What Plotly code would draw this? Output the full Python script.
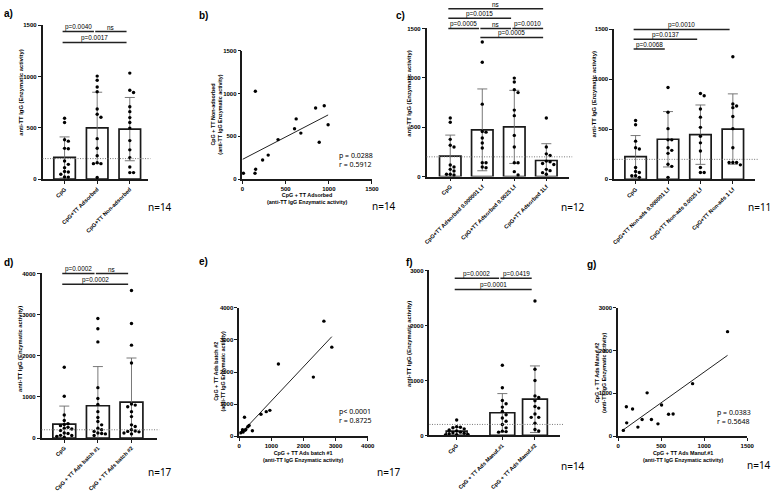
import plotly.graph_objects as go

W, H = 778, 499
FONT = "Liberation Sans"
NFONT = "Noto Sans"

# ---------------- data ----------------
YTITLE = "anti-TT IgG (Enzymatic activity)"

# a) adsorbed vs non-adsorbed
A_CATS = ["CpG", "CpG+TT Adsorbed", "CpG+TT Non-adsorbed"]
A_MEAN = [211, 500, 487]
A_SD = [200, 346, 308]
A_CPG = [593, 551, 383, 370, 300, 296, 176, 144, 112, 74, 70, 48, 22, 20]
A_ADS = [1003, 962, 897, 851, 683, 631, 603, 394, 301, 228, 151, 151, 16, 160]
A_NON = [1032, 865, 843, 705, 657, 599, 551, 497, 375, 285, 208, 119, 64, 64]
A_SIG = [(0, 1, 1436, "p=0.0040"), (1, 2, 1436, "ns"), (0, 2, 1330, "p=0.0017")]

# b) correlation adsorbed vs non-adsorbed
B_X = [149, 847, 947, 622, 603, 676, 992, 889, 412, 298, 233, 153, 145, 11]
B_Y = [1027, 831, 858, 704, 588, 538, 635, 431, 462, 281, 223, 115, 69, 69]
B_FIT = (231, 0.523, 0, 992)  # intercept, slope, x start, x end
B_STATS = ["p = 0.0288", "r = 0.5912"]

# c) adsorbed doses
C_CATS = ["CpG", "CpG+TT Adsorbed 0.000001 Lf", "CpG+TT Adsorbed 0.0025 Lf", "CpG+TT Adsorbed 1Lf"]
C_MEAN = [207, 473, 503, 163]
C_SD = [213, 414, 370, 170]
C_G1 = [593, 550, 377, 317, 300, 117, 97, 73, 57, 23, 23, 17]
C_G2 = [1363, 1157, 733, 457, 450, 390, 340, 290, 140, 140, 97, 90]
C_G3 = [997, 957, 880, 850, 673, 617, 417, 300, 140, 140, 50, 17]
C_G4 = [593, 300, 230, 213, 157, 150, 133, 123, 73, 60, 40, 23]
C_SIG = [(0, 3, 1700, "ns"), (0, 2, 1603, "p=0.0015"), (0, 1, 1500, "p=0.0005"),
         (1, 2, 1500, "ns"), (2, 3, 1500, "p=0.0010"), (1, 3, 1407, "p=0.0005")]

# c, right) non-adsorbed doses
N_CATS = ["CpG", "CpG+TT Non-ads 0.000001 Lf", "CpG+TT Non-ads 0.0025 Lf", "CpG+TT Non-ads 1 Lf"]
N_MEAN = [227, 401, 447, 503]
N_SD = [211, 277, 297, 352]
N_G1 = [589, 546, 382, 316, 303, 118, 79, 69, 36, 36, 20]
N_G2 = [918, 671, 507, 395, 395, 316, 290, 260, 151, 130, 20]
N_G3 = [859, 836, 704, 622, 520, 431, 365, 283, 118, 69, 69]
N_G4 = [1227, 753, 734, 717, 628, 507, 316, 168, 168, 168, 145]
N_SIG = [(0, 1, 1303, "p=0.0068"), (0, 2, 1401, "p=0.0137"), (0, 3, 1500, "p=0.0010")]

# d) batches
D_CATS = ["CpG", "CpG + TT Ads batch #1", "CpG + TT Ads batch #2"]
D_MEAN = [336, 784, 872]
D_SD = [440, 952, 1072]
D_G1 = [1720, 1016, 560, 424, 350, 330, 300, 260, 240, 220, 184, 120, 110, 64, 60, 40, 20]
D_G2 = [2904, 2656, 2336, 1224, 960, 816, 640, 500, 400, 320, 240, 200, 160, 120, 110, 100, 60]
D_G3 = [3584, 2784, 2256, 1824, 824, 800, 760, 640, 520, 320, 280, 200, 170, 160, 150, 120, 100]
D_SIG = [(0, 1, 4000, "p=0.0002"), (1, 2, 4000, "ns"), (0, 2, 3736, "p=0.0002")]

# e) correlation batches
E_X = [2636, 2882, 1220, 2308, 954, 841, 677, 164, 410, 308, 267, 205, 103, 103, 51, 123, 180]
E_Y = [3589, 2776, 2252, 1841, 802, 761, 679, 586, 164, 329, 288, 206, 195, 154, 103, 123, 180]
E_FIT = (29, 1.067, 21, 2882)
E_STATS = ["p< 0.0001", "r = 0.8725"]

# f) manufacturers
F_CATS = ["CpG", "CpG + TT Ads Manuf.#1", "CpG + TT Ads Manuf.#2"]
F_MEAN = [78, 413, 659]
F_SD = [72, 348, 605]
F_G1 = [280, 160, 150, 140, 120, 100, 80, 60, 50, 40, 30, 20, 15, 10]
F_G2 = [1276, 868, 635, 575, 515, 437, 377, 317, 257, 198, 138, 78, 70, 60]
F_G3 = [2444, 1204, 1000, 719, 689, 629, 527, 497, 389, 329, 329, 222, 108, 80]
F_SIG = [(0, 1, 2857, "p=0.0002"), (1, 2, 2857, "p=0.0419"), (0, 2, 2653, "p=0.0001")]

# g) correlation manufacturers
G_X = [1271, 865, 337, 505, 96, 168, 639, 586, 279, 387, 463, 100, 230, 61]
G_Y = [2438, 1223, 1008, 723, 685, 631, 515, 508, 385, 385, 285, 308, 208, 131]
G_FIT = (58, 1.437, 61, 1271)
G_STATS = ["p = 0.0383", "r = 0.5648"]

THRESHOLD = 200

# ---------------- layout helpers ----------------
fig = go.Figure()
layout = dict(width=W, height=H, margin=dict(l=0, r=0, t=0, b=0),
              paper_bgcolor="white", plot_bgcolor="white", showlegend=False)
shapes, annotations = [], []


def dom(x0, x1, yt, yb):
    return [x0 / W, x1 / W], [1 - yb / H, 1 - yt / H]


def aname(a, n):
    return f"{a}axis" if n == 1 else f"{a}axis{n}"


def aref(a, n):
    return a if n == 1 else f"{a}{n}"


TICKFONT = dict(family=FONT, size=6, color="#000", weight="bold")
AX = dict(showline=True, linecolor="#1a1a1a", linewidth=1.5, ticks="outside", ticklen=3,
          tickwidth=1.1, tickcolor="#1a1a1a", showgrid=False, zeroline=False,
          fixedrange=True)


def swarm(vals, ymax, ph, d=3.8):
    placed, offs = [], [0.0] * len(vals)
    order = sorted(range(len(vals)), key=lambda i: -vals[i])
    for i in order:
        ypx = vals[i] / ymax * ph
        for k in [0, 1, -1, 2, -2, 3, -3, 4, -4]:
            xpx = k * d
            if all((xpx - px) ** 2 + (ypx - py) ** 2 >= (d * 0.95) ** 2 for px, py in placed):
                break
        placed.append((xpx, ypx))
        offs[i] = xpx
    return offs


def px_text(x, y, text, size, family=NFONT, xanchor="left", weight="normal", angle=0):
    annotations.append(dict(xref="paper", yref="paper", x=x / W, y=1 - y / H, text=text,
                            showarrow=False, xanchor=xanchor, yanchor="middle", textangle=angle,
                            font=dict(family=family, size=size, color="#000", weight=weight)))


def bar_panel(n, box, c0, unit, pos, cats, means, sds, groups, ymax, yticks, widths, sig, title_xy,
              catsize=5.6):
    x0, x1, yt, yb = box
    xd, yd = dom(*box)
    xr, yr = aref("x", n), aref("y", n)
    catfont = dict(TICKFONT, size=catsize)
    layout[aname("x", n)] = dict(domain=xd, range=[(x0 - c0) / unit, (x1 - c0) / unit], anchor=yr,
                                 tickmode="array", tickvals=pos, ticktext=cats, tickangle=-45,
                                 tickfont=catfont, **AX)
    layout[aname("y", n)] = dict(domain=yd, range=[0, ymax], anchor=xr, tickmode="array",
                                 tickvals=yticks, tickfont=TICKFONT, **AX)
    fig.add_trace(go.Bar(x=pos, y=means, width=widths, xaxis=xr, yaxis=yr,
                         marker=dict(color="white", line=dict(color="#1a1a1a", width=1.7)),
                         error_y=dict(type="data", array=sds, color="#6a6a6a", thickness=0.9, width=5)))
    ph = yb - yt
    for p, vals in zip(pos, groups):
        offs = swarm(vals, ymax, ph)
        fig.add_trace(go.Scatter(x=[p + o / unit for o in offs], y=vals, mode="markers",
                                 marker=dict(color="black", size=3.4), xaxis=xr, yaxis=yr,
                                 cliponaxis=False))
    shapes.append(dict(type="line", xref=f"{xr} domain", yref=yr, x0=0, x1=1.02,
                       y0=THRESHOLD, y1=THRESHOLD,
                       line=dict(color="#777", width=1, dash="1px,1.5px")))
    for i, j, v, t in sig:
        xs, xe = pos[i] - 0.06, pos[j] - 0.1
        shapes.append(dict(type="line", xref=xr, yref=f"{yr} domain", x0=xs, x1=xe,
                           y0=v / ymax, y1=v / ymax, line=dict(color="#222", width=1.5)))
        annotations.append(dict(xref=xr, yref=f"{yr} domain", x=(xs + xe) / 2, y=v / ymax, text=t,
                                showarrow=False, yanchor="bottom", yshift=-1.5,
                                font=dict(family=FONT, size=6.4, color="#000")))
    px_text(title_xy[0], title_xy[1], YTITLE, 5.8, family=FONT, xanchor="center",
            weight="bold", angle=-90)


def scatter_panel(n, box, xs, ys, xmax, ymax, xticks, yticks, fit, xtitle, ytitle, xt_xy, yt_xy):
    xd, yd = dom(*box)
    xr, yr = aref("x", n), aref("y", n)
    layout[aname("x", n)] = dict(domain=xd, range=[0, xmax], anchor=yr, tickmode="array",
                                 tickvals=xticks, tickfont=TICKFONT, **AX)
    layout[aname("y", n)] = dict(domain=yd, range=[0, ymax], anchor=xr, tickmode="array",
                                 tickvals=yticks, tickfont=TICKFONT, **AX)
    b, m, fx0, fx1 = fit
    fig.add_trace(go.Scatter(x=[fx0, fx1], y=[b + m * fx0, b + m * fx1], mode="lines",
                             line=dict(color="#222", width=1), xaxis=xr, yaxis=yr))
    fig.add_trace(go.Scatter(x=xs, y=ys, mode="markers", marker=dict(color="black", size=3.4),
                             xaxis=xr, yaxis=yr, cliponaxis=False))
    px_text(xt_xy[0], xt_xy[1], xtitle, 5.4, family=FONT, xanchor="center", weight="bold")
    px_text(yt_xy[0], yt_xy[1], ytitle, 5.4, family=FONT, xanchor="center", weight="bold", angle=-90)


# ---------------- panels ----------------
bar_panel(1, (41, 148, 22.3, 178.3), 63.3, 33, [0, 1, 2], A_CATS, A_MEAN, A_SD,
          [A_CPG, A_ADS, A_NON], 1500, [0, 500, 1000, 1500], 0.66, A_SIG, (19, 91))

scatter_panel(2, (243.3, 374.3, 48.3, 178.3), B_X, B_Y, 1500, 1500, [0, 500, 1000, 1500],
              [0, 500, 1000, 1500], B_FIT,
              "CpG + TT Adsorbed<br>(anti-TT IgG Enzymatic activity)",
              "CpG + TT Non-adsorbed<br>(anti-TT IgG Enzymatic activity)",
              (308.5, 198), (217.5, 113))

bar_panel(3, (429.5, 574, 25.7, 175.7), 453.5, 32.4, [0, 1, 2, 3], C_CATS, C_MEAN, C_SD,
          [C_G1, C_G2, C_G3, C_G4], 1500, [0, 500, 1000, 1500], 0.67, C_SIG, (411.5, 92))

bar_panel(4, (619.3, 761.7, 26.7, 178.5), 641, 32.8, [0, 1, 2, 3], N_CATS, N_MEAN, N_SD,
          [N_G1, N_G2, N_G3, N_G4], 1500, [0, 500, 1000, 1500], 0.66, N_SIG, (598.5, 93))

bar_panel(5, (40, 156.7, 273.7, 440.3), 63, 34, [0, 1, 2], D_CATS, D_MEAN, D_SD,
          [D_G1, D_G2, D_G3], 4000, [0, 1000, 2000, 3000, 4000], 0.68, D_SIG, (18.5, 350),
          catsize=5.5)

scatter_panel(6, (240, 370, 308.7, 438.3), E_X, E_Y, 4000, 4000, [0, 1000, 2000, 3000, 4000],
              [0, 1000, 2000, 3000, 4000], E_FIT,
              "CpG + TT Ads batch #1<br>(anti-TT IgG Enzymatic activity)",
              "CpG + TT Ads batch #2<br>(anti-TT IgG Enzymatic activity)",
              (305, 459), (220.5, 373))

bar_panel(7, (432.5, 565, 270.7, 437.7), 460, 33, [0, 1.4, 2.4], F_CATS, F_MEAN, F_SD,
          [F_G1, F_G2, F_G3], 3000, [0, 1000, 2000, 3000], [0.64, 0.76, 0.76], F_SIG, (412, 345),
          catsize=5.5)

scatter_panel(8, (623.3, 754, 308.3, 438.3), G_X, G_Y, 1500, 3000, [0, 500, 1000, 1500],
              [0, 1000, 2000, 3000], G_FIT,
              "CpG + TT Ads Manuf.#1<br>(anti-TT IgG Enzymatic activity)",
              "CpG + TT Ads Manuf.#2<br>(anti-TT IgG Enzymatic activity)",
              (688.5, 459), (605.5, 374))

# stats text on correlation panels
for (x, y), stats in [((339, 154), B_STATS), ((339, 413), E_STATS), ((721, 414), G_STATS)]:
    px_text(x, y, stats[0], 7)
    px_text(x, y + 9.5, stats[1], 7)

# n labels
for (x, y), t in [((159.5, 206), "n=14"), ((386, 205), "n=14"), ((578, 206), "n=12"),
                  ((766, 206), "n=11"), ((159.5, 475), "n=17"), ((392, 475), "n=17"),
                  ((578, 469), "n=14"), ((766, 468), "n=14")]:
    px_text(x, y, t, 10, xanchor="center")

# panel letters
for (x, y), t in [((0, 11), "a)"), ((197, 13), "b)"), ((397, 13), "c)"), ((0, 263), "d)"),
                  ((197, 262), "e)"), ((407, 263), "f)"), ((590, 265), "g)")]:
    px_text(x, y, t, 10, family=FONT, weight="bold")

layout["shapes"] = shapes
layout["annotations"] = annotations
fig.update_layout(**layout)
fig.write_html("out.html", config={"displayModeBar": False},
               post_script="document.body.style.margin='0';document.body.style.padding='0';")
